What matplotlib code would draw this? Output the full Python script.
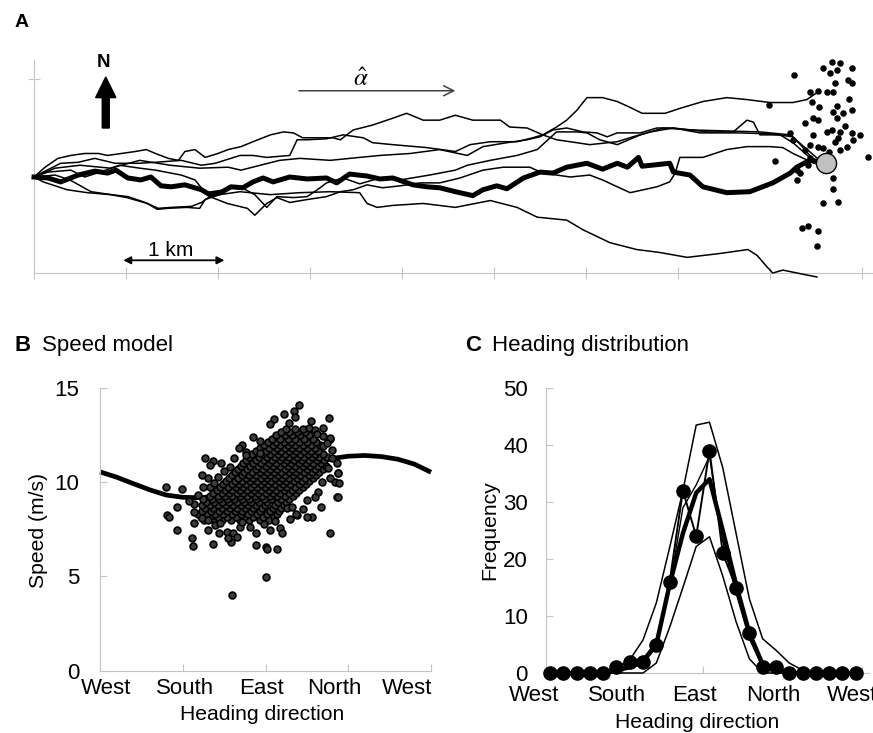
import matplotlib
matplotlib.use("Agg")
import matplotlib.pyplot as plt
from matplotlib.patches import FancyArrow

plt.rcParams['font.family'] = ['Liberation Sans', 'DejaVu Sans']
plt.rcParams['mathtext.fontset'] = 'stix'

# Panel A: simulated tracks, (km east, km north) from the release point
track_main = [(0, 0), (0.15, -0.01), (0.29, -0.05), (0.48, 0.02), (0.66, 0.06), (0.80, 0.04), (0.89, 0.07),
              (1.02, -0.01), (1.16, -0.03), (1.27, 0), (1.38, -0.09), (1.49, -0.10), (1.64, -0.08), (1.82, -0.13),
              (1.91, -0.18), (2.03, -0.16), (2.14, -0.10), (2.27, -0.11), (2.38, -0.05), (2.49, -0.01), (2.60, -0.05),
              (2.78, 0), (2.97, -0.02), (3.18, -0.01), (3.29, -0.06), (3.43, 0.03), (3.62, 0.01), (3.76, -0.02),
              (3.90, -0.01), (4.12, -0.08), (4.27, -0.10), (4.41, -0.11), (4.58, -0.15), (4.77, -0.19), (4.88, -0.13),
              (5.03, -0.09), (5.14, -0.12), (5.32, -0.01), (5.50, 0.05), (5.64, 0.04), (5.79, 0.10), (6.01, 0.14),
              (6.18, 0.08), (6.34, 0.14), (6.45, 0.10), (6.57, 0.20), (6.61, 0.11), (6.91, 0.14), (6.95, 0.05),
              (7.13, 0.02), (7.27, -0.10), (7.53, -0.16), (7.78, -0.15), (8.03, -0.06), (8.22, 0.04), (8.29, 0.10),
              (8.43, 0.17), (8.61, 0.14)]

track_a = [(0, 0), (0.12, 0.10), (0.26, 0.19), (0.40, 0.22), (0.55, 0.24), (0.70, 0.24), (0.80, 0.22), (0.95, 0.24),
           (1.10, 0.26), (1.22, 0.28), (1.32, 0.24), (1.46, 0.19), (1.57, 0.17), (1.64, 0.26), (1.75, 0.28),
           (1.86, 0.20), (2.0, 0.24), (2.11, 0.28), (2.25, 0.31), (2.38, 0.36), (2.57, 0.43), (2.71, 0.46),
           (2.82, 0.45), (2.92, 0.40), (3.25, 0.40), (3.33, 0.38), (3.47, 0.48), (3.68, 0.53), (3.90, 0.60),
           (4.05, 0.65), (4.23, 0.58), (4.41, 0.58), (4.58, 0.63), (4.77, 0.58), (5.07, 0.58), (5.17, 0.51),
           (5.36, 0.50), (5.53, 0.43), (5.68, 0.38), (5.90, 0.35), (6.04, 0.33), (6.34, 0.36), (6.51, 0.41),
           (6.70, 0.46), (6.95, 0.50), (7.32, 0.46), (7.60, 0.46), (7.75, 0.58), (7.82, 0.56), (7.89, 0.43),
           (8.11, 0.43), (8.25, 0.35), (8.43, 0.20), (8.61, 0.14)]

track_b = [(0, 0), (0.10, 0.05), (0.29, 0.14), (0.48, 0.15), (0.66, 0.19), (0.88, 0.14), (1.13, 0.14), (1.32, 0.15),
           (1.60, 0.17), (1.82, 0.12), (1.97, 0.14), (2.24, 0.22), (2.38, 0.22), (2.53, 0.20), (2.78, 0.22),
           (2.86, 0.38), (2.97, 0.38), (3.18, 0.39), (3.36, 0.43), (3.58, 0.40), (3.68, 0.35), (3.90, 0.33),
           (4.27, 0.30), (4.58, 0.26), (4.74, 0.33), (4.96, 0.36), (5.25, 0.36), (5.42, 0.40), (5.53, 0.43),
           (5.68, 0.51), (5.79, 0.58), (5.90, 0.68), (6.01, 0.81), (6.18, 0.81), (6.34, 0.77), (6.48, 0.71),
           (6.61, 0.65), (6.86, 0.65), (7.02, 0.70), (7.27, 0.77), (7.53, 0.81), (7.75, 0.79), (8.0, 0.76),
           (8.25, 0.76), (8.40, 0.79), (8.51, 0.86)]

track_c = [(0, 0), (0.15, 0.05), (0.40, 0.07), (0.55, 0), (0.72, 0.05), (0.93, 0.12), (1.15, 0.09), (1.32, 0.07),
           (1.60, 0.02), (1.75, -0.03), (1.86, -0.16), (2.08, -0.13), (2.24, -0.10), (2.40, -0.18), (2.53, -0.31),
           (2.64, -0.20), (2.82, -0.21), (2.97, -0.20), (3.08, -0.13), (3.18, -0.06), (3.36, -0.01), (3.54, -0.07),
           (3.76, -0.01), (3.98, -0.03), (4.30, 0.02), (4.58, 0.07), (4.71, 0.12), (4.96, 0.17), (5.25, 0.22),
           (5.47, 0.28), (5.68, 0.46), (5.90, 0.46), (6.01, 0.45), (6.15, 0.38), (6.34, 0.33), (6.59, 0.43),
           (6.84, 0.50), (7.16, 0.48), (7.53, 0.47), (7.89, 0.46), (8.22, 0.43), (8.38, 0.30), (8.54, 0.17)]

track_d = [(0, 0), (0.23, 0.02), (0.39, -0.03), (0.62, -0.15), (0.84, -0.18), (1.02, -0.20), (1.21, -0.26),
           (1.35, -0.32), (1.49, -0.31), (1.71, -0.30), (1.82, -0.26), (1.91, -0.20), (2.10, -0.27), (2.32, -0.32),
           (2.40, -0.39), (2.53, -0.27), (2.64, -0.21), (2.78, -0.26), (2.97, -0.23), (3.18, -0.20), (3.33, -0.15),
           (3.47, -0.13), (3.62, -0.08), (3.79, -0.11), (3.98, -0.09), (4.20, -0.06), (4.41, -0.06), (4.63, -0.01),
           (4.88, 0.07), (5.10, 0.10), (5.39, 0.10), (5.53, 0.04), (5.83, 0), (6.04, 0.02), (6.18, -0.03),
           (6.34, -0.10), (6.48, -0.16), (6.77, -0.10), (6.91, -0.05), (6.97, 0.04), (7.02, 0.20), (7.27, 0.20),
           (7.53, 0.28), (7.75, 0.31), (8.0, 0.31), (8.14, 0.30), (8.25, 0.24), (8.41, 0.17), (8.54, 0.12)]

track_e = [(0, 0), (0.10, -0.05), (0.36, -0.13), (0.58, -0.16), (0.83, -0.18), (1.01, -0.21), (1.23, -0.27),
           (1.34, -0.33), (1.45, -0.32), (1.66, -0.31), (1.80, -0.32), (1.86, -0.23), (2.02, -0.18), (2.24, -0.15),
           (2.57, -0.18), (2.89, -0.16), (3.22, -0.15), (3.54, -0.16), (3.62, -0.27), (3.73, -0.31), (3.90, -0.29),
           (4.23, -0.27), (4.58, -0.31), (4.96, -0.24), (5.25, -0.31), (5.47, -0.41), (5.79, -0.44), (5.97, -0.54),
           (6.26, -0.67), (6.55, -0.74), (6.80, -0.77), (7.10, -0.82), (7.46, -0.78), (7.76, -0.74), (7.86, -0.80),
           (7.97, -0.92), (8.03, -0.98), (8.14, -0.95), (8.40, -1.0), (8.51, -1.02)]

track_f = [(0, 0), (0.23, 0.09), (0.50, 0.12), (0.83, 0.09), (1.15, 0.17), (1.48, 0.12), (1.80, 0.09), (2.11, 0.10),
           (2.25, 0.07), (2.46, 0.12), (2.67, 0.17), (2.89, 0.19), (3.22, 0.17), (3.54, 0.20), (3.76, 0.22),
           (4.09, 0.24), (4.41, 0.28), (4.71, 0.22), (4.88, 0.31), (5.14, 0.35), (5.36, 0.38), (5.50, 0.41),
           (5.64, 0.48), (5.79, 0.50), (5.97, 0.46), (6.12, 0.45), (6.23, 0.41), (6.34, 0.45), (6.59, 0.45),
           (6.77, 0.50), (6.95, 0.50), (7.24, 0.45), (7.67, 0.45), (8.0, 0.44), (8.25, 0.41), (8.33, 0.33),
           (8.46, 0.19), (8.57, 0.14)]

tracks_thin = [track_a, track_b, track_c, track_d, track_e, track_f]

end_points = [(8.26, 1.04), (8.58, 1.11), (8.67, 1.17), (8.76, 1.16), (8.73, 1.09), (8.65, 1.06), (8.89, 1.11),
              (8.85, 0.99), (8.89, 0.96), (8.71, 0.96), (8.43, 0.87), (8.52, 0.88), (8.62, 0.87), (8.68, 0.87),
              (8.86, 0.80), (7.99, 0.73), (8.46, 0.77), (8.53, 0.71), (8.73, 0.72), (8.89, 0.68), (8.68, 0.66),
              (8.79, 0.65), (8.38, 0.55), (8.47, 0.60), (8.52, 0.58), (8.73, 0.60), (8.22, 0.45), (8.25, 0.38),
              (8.47, 0.43), (8.62, 0.46), (8.67, 0.48), (8.76, 0.46), (8.82, 0.52), (8.89, 0.45), (8.98, 0.43),
              (8.43, 0.33), (8.52, 0.31), (8.58, 0.30), (8.71, 0.36), (8.74, 0.40), (8.84, 0.31), (8.90, 0.38),
              (9.07, 0.20), (8.05, 0.16), (8.43, 0.19), (8.41, 0.12), (8.29, -0.03), (8.33, 0.04), (8.68, -0.01),
              (8.68, -0.12), (8.58, -0.27), (8.74, -0.26), (8.35, -0.52), (8.41, -0.50), (8.52, -0.55),
              (8.51, -0.70), (8.29, 0.07), (8.38, 0.28), (8.64, 0.26), (8.76, 0.28)]
mean_end = (8.61, 0.14)

# Panel B: speed model and observations
model_heading = [0, 0.2, 0.4, 0.6, 0.8, 1.0, 1.2, 1.4, 1.6, 1.8, 2.0, 2.2, 2.4, 2.6, 2.8, 3.0, 3.2, 3.4, 3.6, 3.8, 4.0]
model_speed = [10.55, 10.27, 9.93, 9.6, 9.32, 9.2, 9.18, 9.25, 9.4, 9.62, 9.9, 10.22, 10.6, 10.98, 11.26, 11.38,
               11.42, 11.36, 11.22, 10.96, 10.53]

obs_sparse = [(2.41, 14.09), (2.35, 13.79), (2.22, 13.62), (2.36, 13.44), (2.10, 13.33), (2.06, 13.09),
              (2.77, 13.39), (2.55, 13.26), (2.28, 13.12), (2.69, 12.86), (2.52, 12.86), (2.60, 12.77),
              (2.78, 12.27), (2.78, 12.33), (2.80, 11.71), (2.86, 11.0), (2.88, 10.47), (2.84, 10.03), (2.89, 9.95),
              (2.86, 9.23), (2.88, 9.2), (2.78, 7.32), (2.68, 10.03), (2.64, 9.5), (2.56, 8.17), (2.50, 8.17),
              (2.38, 8.26), (1.93, 12.2), (1.93, 11.57), (1.77, 11.62), (1.77, 11.44), (1.57, 10.82), (1.27, 11.27),
              (1.37, 11.14), (1.33, 10.91), (1.23, 10.38), (1.43, 10.29), (0.80, 9.73), (0.99, 9.62), (1.25, 9.76),
              (1.33, 9.76), (0.93, 8.67), (0.81, 8.26), (0.83, 8.17), (0.93, 7.46), (1.11, 7.02), (1.12, 6.63),
              (1.31, 7.46), (1.37, 6.7), (1.58, 6.85), (1.89, 6.67), (2.01, 6.58), (2.02, 6.44), (2.14, 6.44),
              (2.18, 7.55), (2.20, 7.32), (2.01, 4.99), (1.60, 4.02), (1.13, 7.82), (1.13, 8.44), (1.23, 8.08),
              (1.31, 8.0), (1.39, 7.73), (1.44, 7.32), (1.53, 7.37), (1.61, 7.29), (1.65, 7.11), (1.55, 7.02),
              (1.69, 7.64), (1.81, 7.64), (1.89, 7.29), (2.06, 7.46), (2.26, 8.61), (2.32, 8.7), (2.37, 8.31),
              (2.50, 9.05), (2.67, 8.7), (2.78, 10.2), (2.88, 10.5), (1.71, 12.0), (1.85, 12.4), (2.62, 12.55),
              (2.7, 11.9), (2.74, 12.1), (1.62, 11.3), (1.5, 10.6), (1.38, 9.95), (1.18, 9.3), (1.14, 8.85),
              (1.45, 7.85), (1.72, 7.9), (1.98, 7.8), (2.12, 7.95), (2.3, 8.05), (1.08, 9.0), (1.3, 10.2),
              (1.46, 11.0), (1.68, 11.8), (2.7, 12.45), (2.8, 11.3), (2.76, 10.75), (2.6, 9.2), (2.45, 8.6)]

obs_dense = {
    8.0: [1.26, 1.38, 1.47, 1.58, 1.69, 1.8, 1.93, 2.04],
    8.16: [1.22, 1.33, 1.43, 1.53, 1.64, 1.74, 1.85, 1.97, 2.1],
    8.32: [1.19, 1.29, 1.39, 1.49, 1.6, 1.7, 1.79, 1.9, 2.02, 2.14],
    8.48: [1.23, 1.34, 1.44, 1.54, 1.63, 1.72, 1.82, 1.93, 2.06, 2.16],
    8.64: [1.27, 1.37, 1.47, 1.57, 1.66, 1.75, 1.85, 1.96, 2.09, 2.19],
    8.8: [1.23, 1.33, 1.42, 1.52, 1.61, 1.7, 1.79, 1.88, 1.99, 2.12, 2.22],
    8.96: [1.28, 1.38, 1.47, 1.56, 1.65, 1.74, 1.83, 1.92, 2.02, 2.15, 2.25],
    9.12: [1.25, 1.35, 1.44, 1.53, 1.62, 1.71, 1.8, 1.89, 1.98, 2.07, 2.19, 2.29],
    9.28: [1.33, 1.42, 1.51, 1.6, 1.69, 1.78, 1.87, 1.96, 2.05, 2.14, 2.24, 2.33],
    9.44: [1.37, 1.47, 1.56, 1.65, 1.73, 1.82, 1.91, 2.0, 2.09, 2.18, 2.28, 2.37],
    9.6: [1.41, 1.51, 1.6, 1.69, 1.78, 1.86, 1.95, 2.04, 2.13, 2.22, 2.32, 2.41],
    9.76: [1.45, 1.55, 1.64, 1.73, 1.82, 1.9, 1.99, 2.08, 2.17, 2.26, 2.36, 2.45],
    9.92: [1.49, 1.59, 1.68, 1.77, 1.86, 1.94, 2.03, 2.12, 2.21, 2.3, 2.4, 2.49],
    10.08: [1.52, 1.63, 1.72, 1.81, 1.9, 1.98, 2.07, 2.16, 2.25, 2.34, 2.44, 2.53],
    10.24: [1.56, 1.67, 1.76, 1.85, 1.94, 2.02, 2.11, 2.2, 2.29, 2.38, 2.48, 2.57],
    10.4: [1.6, 1.71, 1.8, 1.89, 1.98, 2.06, 2.15, 2.24, 2.33, 2.42, 2.52, 2.61],
    10.56: [1.63, 1.74, 1.84, 1.93, 2.02, 2.1, 2.19, 2.28, 2.37, 2.46, 2.56, 2.65],
    10.72: [1.67, 1.78, 1.88, 1.97, 2.06, 2.14, 2.23, 2.32, 2.41, 2.5, 2.6, 2.69],
    10.88: [1.7, 1.81, 1.91, 2.0, 2.09, 2.18, 2.27, 2.36, 2.45, 2.54, 2.64, 2.73],
    11.04: [1.73, 1.85, 1.95, 2.04, 2.13, 2.22, 2.31, 2.4, 2.49, 2.58, 2.67],
    11.2: [1.77, 1.88, 1.98, 2.08, 2.17, 2.26, 2.35, 2.44, 2.53, 2.62, 2.71],
    11.36: [1.8, 1.92, 2.02, 2.11, 2.2, 2.29, 2.38, 2.47, 2.56, 2.65, 2.74],
    11.52: [1.84, 1.96, 2.06, 2.15, 2.24, 2.33, 2.42, 2.51, 2.6, 2.69],
    11.68: [1.88, 2.0, 2.1, 2.19, 2.28, 2.37, 2.46, 2.55, 2.64],
    11.84: [1.93, 2.04, 2.14, 2.23, 2.32, 2.41, 2.5, 2.6],
    12.0: [1.98, 2.09, 2.18, 2.27, 2.36, 2.45, 2.55, 2.66],
    12.16: [2.03, 2.13, 2.22, 2.31, 2.4, 2.5, 2.61],
    12.32: [2.08, 2.18, 2.27, 2.36, 2.46, 2.57],
    12.48: [2.13, 2.23, 2.32, 2.42, 2.52],
    12.64: [2.19, 2.29, 2.38, 2.48],
    12.8: [2.25, 2.36, 2.45],
}

# Panel C: heading distribution, 24 bins
heading_bins = list(range(24))
freq_obs = [0, 0, 0, 0, 0, 1, 2, 2, 5, 16, 32, 24, 39, 21, 15, 7, 1, 1, 0, 0, 0, 0, 0, 0]
freq_mean = [0, 0, 0, 0, 0, 0.5, 1, 2, 5, 15.5, 24.5, 31.6, 34, 25, 15.5, 7, 1.5, 0.5, 0, 0, 0, 0, 0, 0]
freq_sim = [0, 0, 0, 0, 0, 0.5, 1.5, 2.5, 5.5, 15, 29, 33, 38, 23, 14, 6, 1, 0.5, 0, 0, 0, 0, 0, 0]
freq_upper = [0, 0, 0, 0, 0, 1, 2.3, 5.8, 12.3, 22, 32, 43.5, 44, 36, 24.5, 13, 6, 4, 1.75, 0.5, 0, 0, 0, 0]
freq_lower = [0, 0, 0, 0, 0, 0, 0, 0, 1.75, 8, 15, 22.2, 23.9, 17, 9, 2.5, 0, 0, 0, 0, 0, 0, 0, 0]

heading_names = ['West', 'South', 'East', 'North', 'West']
speed_label_pos = [0.07, 1.03, 1.95, 2.83, 3.71]
freq_label_pos = [-1.2, 5.05, 10.9, 16.8, 22.7]

W, H = 873, 733
grey = '#c4c4c4'


def fpos(x, y):
    return x / W, 1 - y / H


fig = plt.figure(figsize=(W / 100, H / 100), dpi=100)

# ---------------- Panel A ----------------
ax_a = fig.add_axes([34 / W, 1 - 273 / H, 839 / W, 213 / H])
ax_a.set_xlim(0, 839 / 92)
ax_a.set_ylim(-96 / 98, 117 / 98)
for side in ['top', 'right']:
    ax_a.spines[side].set_visible(False)
for side in ['left', 'bottom']:
    ax_a.spines[side].set_color(grey)
ax_a.set_xticks(range(10))
ax_a.set_yticks([1])
ax_a.tick_params(direction='inout', length=9, color=grey, labelbottom=False, labelleft=False)

for tr in tracks_thin:
    ax_a.plot([p[0] for p in tr], [p[1] for p in tr], color='black', lw=1.1, clip_on=False, zorder=3)
ax_a.plot([p[0] for p in track_main], [p[1] for p in track_main], color='black', lw=3.6,
          solid_joinstyle='round', clip_on=False, zorder=4)
ax_a.scatter([p[0] for p in end_points], [p[1] for p in end_points], s=22, color='black',
             linewidths=0, clip_on=False, zorder=5)
ax_a.scatter([mean_end[0]], [mean_end[1]], s=210, facecolor='#c0c0c0', edgecolor='black',
             linewidths=1, clip_on=False, zorder=6)

# north arrow, scale bar, mean direction arrow
ax_a.add_patch(FancyArrow(0.78, 0.50, 0, 0.52, width=0.076, head_width=0.22, head_length=0.21,
                          length_includes_head=True, color='black', clip_on=False))
ax_a.text(0.76, 1.17, 'N', fontsize=13.5, fontweight='bold', ha='center', va='center')
ax_a.annotate('', xy=(2.07, -0.85), xytext=(0.97, -0.85),
              arrowprops=dict(arrowstyle='<|-|>', color='black', lw=1.3, mutation_scale=11,
                              shrinkA=0, shrinkB=0))
ax_a.text(1.49, -0.745, '1 km', fontsize=15, ha='center', va='center')
ax_a.annotate('', xy=(4.58, 0.88), xytext=(2.88, 0.88),
              arrowprops=dict(arrowstyle='->', color='#404040', lw=1.1, mutation_scale=18,
                              shrinkA=0, shrinkB=0))
ax_a.text(3.55, 1.0, r'$\hat{\alpha}$', fontsize=18, ha='center', va='center')

fig.text(*fpos(15, 27), 'A', fontsize=14, fontweight='bold', ha='left', va='baseline')

# ---------------- Panel B ----------------
ax_b = fig.add_axes([100 / W, 1 - 670.7 / H, 331 / W, 282.7 / H])
ax_b.set_xlim(0, 4)
ax_b.set_ylim(0, 15)
for side in ['top', 'right']:
    ax_b.spines[side].set_visible(False)
for side in ['left', 'bottom']:
    ax_b.spines[side].set_color(grey)
ax_b.set_xticks(range(5))
ax_b.set_yticks([0, 5, 10, 15])
ax_b.tick_params(direction='in', length=5, color=grey, labelsize=16, pad=15, labelbottom=False)

dense_x = [x for y, xs in obs_dense.items() for x in xs]
dense_y = [y for y, xs in obs_dense.items() for x in xs]
dot_style = dict(s=24, facecolor='#3c3c3c', edgecolor='black', linewidths=1.2, zorder=3)
ax_b.scatter(dense_x, dense_y, **dot_style)
ax_b.scatter([p[0] for p in obs_sparse], [p[1] for p in obs_sparse], **dot_style)
ax_b.plot(model_heading, model_speed, color='black', lw=3.4, solid_capstyle='butt', zorder=2, clip_on=False)

for xp, name in zip(speed_label_pos, heading_names):
    ax_b.annotate(name, xy=(xp, 0), xycoords=('data', 'axes fraction'), xytext=(0, -5),
                  textcoords='offset points', ha='center', va='top', fontsize=16, annotation_clip=False)

fig.text(*fpos(262, 715), 'Heading direction', fontsize=15.2, ha='center', va='center')
fig.text(*fpos(38, 530), 'Speed (m/s)', fontsize=15.2, ha='center', va='center', rotation=90)
fig.text(*fpos(15, 351), 'B', fontsize=16, fontweight='bold', ha='left', va='baseline')
fig.text(*fpos(42, 351), 'Speed model', fontsize=16, ha='left', va='baseline')

# ---------------- Panel C ----------------
ax_c = fig.add_axes([546 / W, 1 - 673 / H, 323 / W, 285 / H])
ax_c.set_xlim(-0.3, 24)
ax_c.set_ylim(0, 50)
for side in ['top', 'right']:
    ax_c.spines[side].set_visible(False)
for side in ['left', 'bottom']:
    ax_c.spines[side].set_color(grey)
ax_c.set_xticks([5.5, 11.5, 17.5, 23.5])
ax_c.set_yticks(range(0, 51, 10))
ax_c.tick_params(direction='in', length=5, color=grey, labelsize=16, pad=13, labelbottom=False)

ax_c.plot(heading_bins, freq_upper, color='black', lw=1.1, clip_on=False, zorder=3)
ax_c.plot(heading_bins, freq_lower, color='black', lw=1.1, clip_on=False, zorder=3)
ax_c.plot(heading_bins, freq_sim, color='black', lw=1.0, clip_on=False, zorder=3)
ax_c.plot(heading_bins, freq_mean, color='black', lw=3.2, clip_on=False, zorder=4)
ax_c.plot(heading_bins, freq_obs, color='black', lw=1.4, marker='o', ms=9.5, clip_on=False, zorder=5)

for xp, name in zip(freq_label_pos, heading_names):
    ax_c.annotate(name, xy=(xp, 0), xycoords=('data', 'axes fraction'), xytext=(0, -8.5),
                  textcoords='offset points', ha='center', va='top', fontsize=16, annotation_clip=False)

fig.text(*fpos(697, 723), 'Heading direction', fontsize=15.2, ha='center', va='center')
fig.text(*fpos(490, 530), 'Frequency', fontsize=15.2, ha='center', va='center', rotation=90)
fig.text(*fpos(465, 351), 'C', fontsize=16, fontweight='bold', ha='left', va='baseline')
fig.text(*fpos(492, 351), 'Heading distribution', fontsize=16, ha='left', va='baseline')

fig.savefig('out.png', dpi=100)
